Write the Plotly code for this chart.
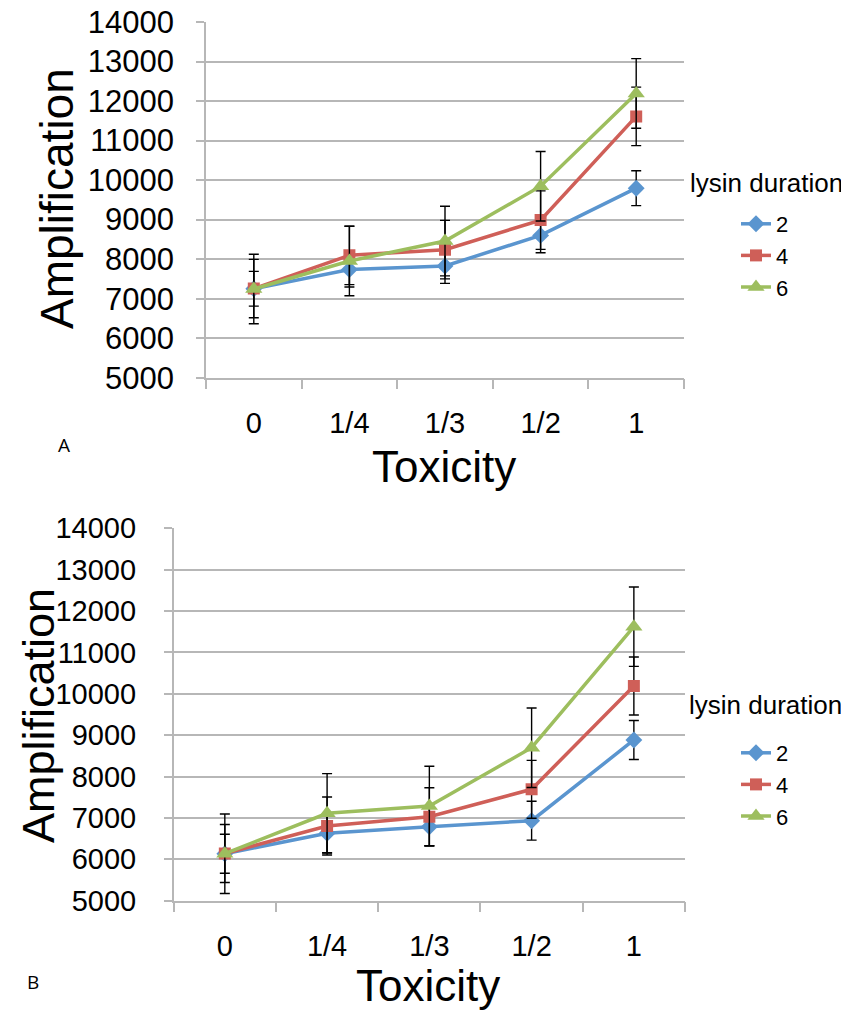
import plotly.graph_objects as go

W, H = 849, 1010
OFF = 8  # page body margin in the browser


def px(x):
    return (x - OFF) / W


def py(y):
    return 1 - (y - OFF) / H


categories = ["0", "1/4", "1/3", "1/2", "1"]
series_names = ["2", "4", "6"]
colors = ["#5A95CF", "#CF5F58", "#9DBE5E"]
symbols = ["diamond", "square", "triangle-up"]
marker_sizes = [13, 12, 15]

# Panel A
a_2 = [7250, 7735, 7826, 8601, 9795]
a_4 = [7255, 8096, 8240, 8987, 11612]
a_6 = [7245, 7953, 8457, 9845, 12193]
a_err_2 = [440, 440, 440, 440, 440]
a_err_4 = [740, 740, 740, 740, 740]
a_err_6 = [880, 880, 880, 880, 880]

# Panel B
b_2 = [6135, 6629, 6789, 6933, 8884]
b_4 = [6140, 6805, 7030, 7692, 10189]
b_6 = [6135, 7112, 7289, 8697, 11622]
b_err_2 = [470, 470, 470, 470, 470]
b_err_4 = [700, 700, 700, 700, 700]
b_err_6 = [960, 960, 960, 960, 960]

y_range = [5000, 14000]
y_dtick = 1000

FONT = "Liberation Sans, Arial, sans-serif"
GRID = "#b7b7b7"

fig = go.Figure()

panels = [
    ("x", "y", "legend", [a_2, a_4, a_6], [a_err_2, a_err_4, a_err_6]),
    ("x2", "y2", "legend2", [b_2, b_4, b_6], [b_err_2, b_err_4, b_err_6]),
]
for xa, ya, leg, vals, errs in panels:
    for i in range(3):
        fig.add_trace(go.Scatter(
            x=categories, y=vals[i], name=series_names[i],
            xaxis=xa, yaxis=ya, legend=leg,
            mode="lines+markers",
            line=dict(color=colors[i], width=3.5),
            marker=dict(symbol=symbols[i], size=marker_sizes[i], color=colors[i]),
            error_y=dict(type="data", array=errs[i], color="black", thickness=1.4, width=5),
        ))


def xaxis_style(domain, anchor):
    return dict(domain=domain, anchor=anchor, type="category",
                categoryorder="array", categoryarray=categories,
                range=[-0.5, 4.5], tickson="boundaries",
                showgrid=False, showline=True, linecolor=GRID, linewidth=1.5,
                ticks="outside", ticklen=10, tickcolor=GRID, tickwidth=1.5,
                ticklabelstandoff=19, automargin=False,
                ticklabeloverflow="allow",
                tickfont=dict(family=FONT, size=29, color="black"),
                zeroline=False, fixedrange=True)


def yaxis_style(domain, anchor, size, standoff):
    return dict(domain=domain, anchor=anchor, range=y_range, dtick=y_dtick,
                tickformat="d",
                showgrid=True, gridcolor=GRID, gridwidth=1.5,
                showline=True, linecolor=GRID, linewidth=1.5,
                ticks="outside", ticklen=8, tickcolor=GRID, tickwidth=1.5,
                ticklabelstandoff=standoff, automargin=False,
                ticklabeloverflow="allow",
                tickfont=dict(family=FONT, size=size, color="black"),
                zeroline=False, fixedrange=True)


fig.update_layout(
    width=W, height=H,
    margin=dict(l=0, r=0, t=0, b=0, autoexpand=False),
    paper_bgcolor="white", plot_bgcolor="white",
    font=dict(family=FONT, color="black"),
    xaxis=xaxis_style([px(206), px(684)], "y"),
    yaxis=yaxis_style([py(377.7), py(22)], "x", 31, 16),
    xaxis2=xaxis_style([px(173.7), px(685)], "y2"),
    yaxis2=yaxis_style([py(900.7), py(528.3)], "x2", 29, 22),
    legend=dict(x=px(736), y=py(203), xanchor="left", yanchor="top",
                bgcolor="rgba(0,0,0,0)", font=dict(family=FONT, size=22),
                tracegroupgap=0),
    legend2=dict(x=px(736), y=py(732), xanchor="left", yanchor="top",
                 bgcolor="rgba(0,0,0,0)", font=dict(family=FONT, size=22),
                 tracegroupgap=0),
    showlegend=True,
)

ann = [
    dict(text="Amplification", x=57, y=199, textangle=-90, size=46),
    dict(text="Amplification", x=38, y=716, textangle=-90, size=45),
    dict(text="Toxicity", x=444, y=467, textangle=0, size=44),
    dict(text="Toxicity", x=428, y=985, textangle=0, size=44),
    dict(text="lysin duration", x=766, y=183, textangle=0, size=26),
    dict(text="lysin duration", x=765, y=705, textangle=0, size=26),
]
for a in ann:
    fig.add_annotation(text=a["text"], x=px(a["x"]), y=py(a["y"]), xref="paper", yref="paper",
                       xanchor="center", yanchor="middle", showarrow=False,
                       textangle=a["textangle"],
                       font=dict(family=FONT, size=a["size"], color="black"))

for lbl, x, y in [("A", 64, 445), ("B", 33, 982)]:
    fig.add_annotation(text=lbl, x=px(x), y=py(y), xref="paper", yref="paper",
                       xanchor="center", yanchor="middle", showarrow=False,
                       font=dict(family="Open Sans, sans-serif", size=19, color="black"))

fig.write_html("out.html")
